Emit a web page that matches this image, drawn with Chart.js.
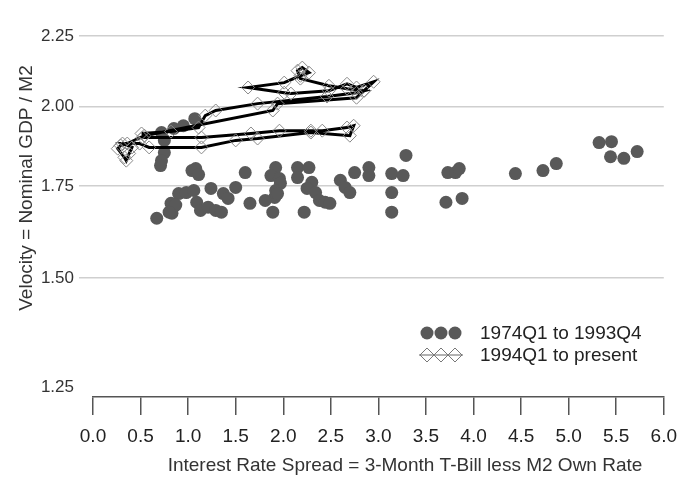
<!DOCTYPE html>
<html>
<head>
<meta charset="utf-8">
<script src="https://cdn.jsdelivr.net/npm/chart.js@4/dist/chart.umd.min.js"></script>
<style>
  html, body { margin: 0; padding: 0; background: #fff; }
  canvas { display: block; }
</style>
</head>
<body>
<canvas id="chart" width="687" height="478"></canvas>
<script>
// 1974Q1 to 1993Q4: spread (x) and velocity (y)
const oldSpread = [1.07, 0.95, 0.85, 0.72, 0.75, 0.75, 0.72, 0.71, 1.04, 1.08, 1.11, 1.60, 1.92, 1.87, 1.96, 1.97,
  1.92, 1.91, 1.81, 1.89, 1.65, 2.15, 2.27, 2.15, 2.30, 2.25, 2.34, 2.22, 2.38, 2.44, 2.49, 2.60,
  2.65, 2.70, 2.75, 2.90, 2.90, 3.14, 3.26, 3.29, 3.14, 3.14, 3.73, 3.81, 3.85, 3.71, 3.88, 4.44,
  4.73, 4.87, 5.32, 5.45, 5.44, 5.58, 5.72, 0.90, 0.98, 1.06, 0.82, 0.83, 0.67, 1.09, 1.13, 1.21,
  1.29, 1.35, 1.24, 1.37, 1.42, 1.50, 0.87, 0.80, 1.94];
const oldVelocity = [1.959, 1.936, 1.927, 1.914, 1.889, 1.851, 1.826, 1.811, 1.796, 1.802, 1.784, 1.790, 1.805, 1.781, 1.772, 1.758,
  1.737, 1.717, 1.708, 1.675, 1.700, 1.805, 1.805, 1.775, 1.761, 1.743, 1.731, 1.675, 1.708, 1.703, 1.700, 1.767,
  1.746, 1.731, 1.790, 1.805, 1.781, 1.787, 1.781, 1.842, 1.731, 1.675, 1.790, 1.790, 1.802, 1.703, 1.714, 1.787,
  1.796, 1.817, 1.882, 1.885, 1.838, 1.833, 1.854, 1.728, 1.731, 1.737, 1.700, 1.672, 1.658, 1.703, 1.680, 1.689,
  1.680, 1.675, 1.743, 1.728, 1.714, 1.746, 1.695, 1.675, 1.728];

// 1994Q1 to present, in time order
const newSpread = [0.51, 0.82, 1.11, 1.18, 1.29, 1.73, 2.46, 2.77, 2.85, 2.67, 2.48, 2.18, 2.15, 2.20, 2.27, 2.18,
  2.01, 1.63, 2.01, 2.08, 2.48, 2.67, 2.77, 2.95, 2.85, 2.77, 1.94, 1.89, 0.54, 0.36, 0.29, 0.26,
  0.33, 0.35, 0.38, 0.41, 0.31, 0.49, 0.59, 1.14, 1.50, 1.73, 2.29, 2.70, 2.74, 2.67, 2.41, 2.29,
  1.96, 1.66, 1.14, 0.52];
const newVelocity = [1.911, 1.917, 1.930, 1.969, 1.986, 2.009, 2.033, 2.046, 2.053, 2.060, 2.070, 2.095, 2.123, 2.134, 2.116, 2.105,
  2.081, 2.064, 2.046, 2.043, 2.053, 2.077, 2.064, 2.084, 2.053, 2.029, 2.009, 1.986, 1.904, 1.879, 1.873, 1.863,
  1.836, 1.826, 1.848, 1.867, 1.879, 1.879, 1.867, 1.867, 1.889, 1.895, 1.914, 1.904, 1.936, 1.930, 1.920, 1.920,
  1.920, 1.911, 1.898, 1.898];

const xTicks = [0, 0.5, 1, 1.5, 2, 2.5, 3, 3.5, 4, 4.5, 5, 5.5, 6];
const yTicks = [1.25, 1.5, 1.75, 2.0, 2.25];
const seriesNames = ['1974Q1 to 1993Q4', '1994Q1 to present'];

const FONT = '"Liberation Sans", Arial, sans-serif';
const DOT = '#595959';

const toPoints = (xs, ys) => xs.map((x, i) => ({ x: x, y: ys[i] }));

// axis titles and the legend, placed like the original
const extras = {
  id: 'extras',
  afterDraw(chart) {
    const c = chart.ctx;
    c.save();
    c.fillStyle = '#333';
    c.font = '19px ' + FONT;
    c.textAlign = 'center';
    c.textBaseline = 'middle';
    c.fillText('Interest Rate Spread = 3-Month T-Bill less M2 Own Rate', 405, 466);
    c.save();
    c.translate(27, 188);
    c.rotate(-Math.PI / 2);
    c.fillText('Velocity = Nominal GDP / M2', 0, 0);
    c.restore();

    // legend
    const mx = [427, 441, 455];
    c.fillStyle = DOT;
    mx.forEach(x => { c.beginPath(); c.arc(x, 333, 6.5, 0, Math.PI * 2); c.fill(); });
    c.strokeStyle = '#999';
    c.lineWidth = 1.5;
    c.beginPath(); c.moveTo(419, 355); c.lineTo(463, 355); c.stroke();
    c.lineWidth = 1;
    c.strokeStyle = '#777';
    mx.forEach(x => {
      c.beginPath();
      c.moveTo(x, 348); c.lineTo(x + 7, 355); c.lineTo(x, 362); c.lineTo(x - 7, 355); c.closePath();
      c.stroke();
    });
    c.fillStyle = '#222';
    c.textAlign = 'left';
    c.fillText(seriesNames[0], 480, 334);
    c.fillText(seriesNames[1], 480, 356);
    c.restore();
  }
};

new Chart(document.getElementById('chart'), {
  type: 'scatter',
  data: {
    datasets: [
      {
        label: seriesNames[1],
        data: toPoints(newSpread, newVelocity),
        showLine: true,
        borderColor: '#000',
        borderWidth: 3,
        pointStyle: 'rectRot',
        pointRadius: 6.5,
        pointBorderColor: '#888',
        pointBorderWidth: 1,
        pointBackgroundColor: 'rgba(255,255,255,0)',
        order: 0
      },
      {
        label: seriesNames[0],
        data: toPoints(oldSpread, oldVelocity),
        pointRadius: 6.5,
        pointBackgroundColor: DOT,
        pointBorderColor: DOT,
        pointBorderWidth: 0,
        order: 1
      }
    ]
  },
  options: {
    responsive: false,
    animation: false,
    layout: { padding: { top: 36, right: 17, left: 0, bottom: 0 } },
    plugins: {
      legend: { display: false },
      tooltip: { enabled: false }
    },
    scales: {
      x: {
        type: 'linear',
        min: 0,
        max: 6,
        afterBuildTicks: (scale) => { scale.ticks = xTicks.map(v => ({ value: v })); },
        afterFit: (scale) => { scale.height = 81; },
        border: { display: true, color: '#555', width: 1.5 },
        grid: { drawOnChartArea: false, drawTicks: true, tickLength: 18, tickColor: '#555', lineWidth: 1.5 },
        ticks: {
          padding: 10,
          color: '#222',
          font: { family: FONT, size: 19 },
          maxRotation: 0,
          autoSkip: false,
          callback: (v) => Number(v).toFixed(1)
        }
      },
      y: {
        type: 'logarithmic',
        min: 1.229,
        max: 2.25,
        afterBuildTicks: (scale) => { scale.ticks = yTicks.map(v => ({ value: v })); },
        afterFit: (scale) => { scale.width = 93; },
        border: { display: false },
        grid: {
          color: (ctx) => (ctx.tick && ctx.tick.value === 1.25) ? 'rgba(0,0,0,0)' : '#cfcfcf',
          tickColor: (ctx) => (ctx.tick && ctx.tick.value === 1.25) ? 'rgba(0,0,0,0)' : '#cfcfcf',
          lineWidth: 1.5,
          tickLength: 14
        },
        ticks: {
          padding: 5,
          color: '#333',
          font: { family: FONT, size: 17 },
          autoSkip: false,
          callback: (v) => Number(v).toFixed(2)
        }
      }
    }
  },
  plugins: [extras]
});
</script>
</body>
</html>
